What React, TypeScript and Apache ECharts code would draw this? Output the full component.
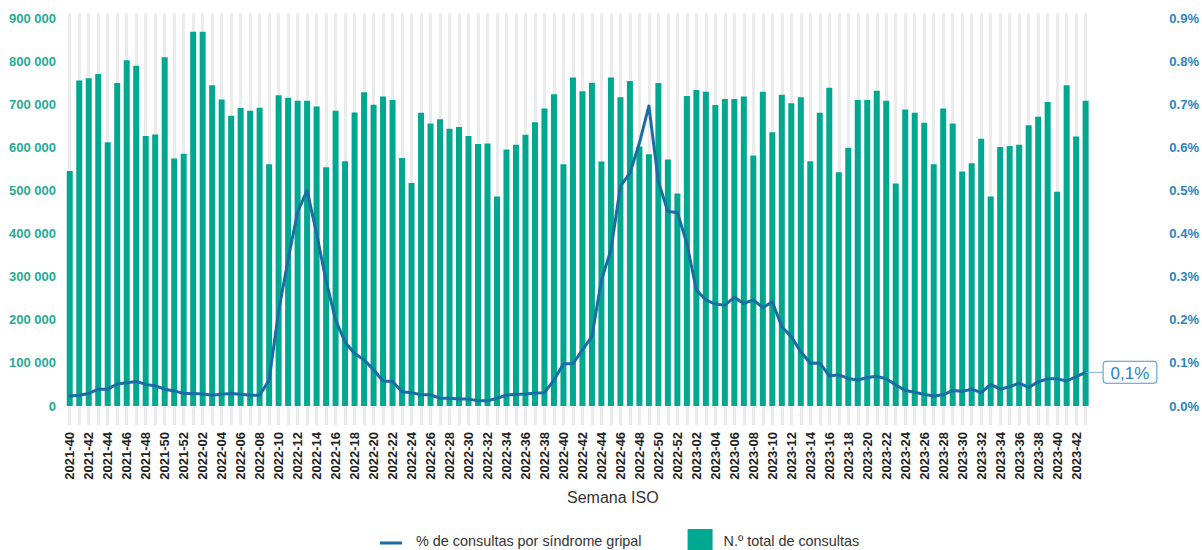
import React, { useEffect, useRef } from "react";
import * as echarts from "echarts";

// Week ranges (ISO): 2021-40..2021-52, 2022-01..2022-52, 2023-01..2023-43
const weekRanges: [number, number, number][] = [
  [2021, 40, 52],
  [2022, 1, 52],
  [2023, 1, 43],
];
const weeks: string[] = [];
for (const [y, a, b] of weekRanges) {
  for (let w = a; w <= b; w++) weeks.push(`${y}-${w < 10 ? "0" + w : w}`);
}

const totalConsultas: number[] = [
  545000, 755000, 760000, 770000, 612000, 749000, 802000, 789000, 626000, 630000,
  809000, 574000, 585000, 868000, 868000, 744000, 711000, 673000, 691000, 685000,
  692000, 561000, 721000, 715000, 708000, 708000, 695000, 554000, 685000, 568000,
  681000, 728000, 699000, 718000, 710000, 575000, 517000, 680000, 655000, 665000,
  643000, 647000, 626000, 608000, 609000, 486000, 595000, 606000, 629000, 658000,
  690000, 723000, 561000, 762000, 730000, 750000, 567000, 762000, 716000, 754000,
  602000, 584000, 749000, 572000, 493000, 719000, 733000, 729000, 698000, 712000,
  712000, 718000, 581000, 729000, 635000, 722000, 702000, 716000, 568000, 680000,
  738000, 542000, 599000, 710000, 710000, 731000, 708000, 516000, 688000, 680000,
  657000, 561000, 690000, 655000, 544000, 563000, 620000, 486000, 601000, 603000,
  606000, 651000, 671000, 705000, 497000, 744000, 625000, 708000,
];

const pctGripal: number[] = [
  0.023, 0.025, 0.029, 0.039, 0.039, 0.051, 0.054, 0.057, 0.05, 0.047,
  0.039, 0.035, 0.029, 0.029, 0.028, 0.025, 0.027, 0.029, 0.027, 0.025,
  0.025, 0.06, 0.22, 0.34, 0.45, 0.5, 0.4, 0.29, 0.2, 0.148,
  0.122, 0.107, 0.084, 0.058, 0.057, 0.033, 0.031, 0.026, 0.026, 0.018,
  0.018, 0.016, 0.016, 0.012, 0.012, 0.018, 0.025, 0.027, 0.028, 0.03,
  0.031, 0.06, 0.098, 0.098, 0.13, 0.161, 0.292, 0.362, 0.51, 0.54,
  0.61, 0.696, 0.52, 0.451, 0.449, 0.377, 0.269, 0.246, 0.236, 0.234,
  0.252, 0.238, 0.246, 0.228, 0.242, 0.184, 0.161, 0.126, 0.099, 0.1,
  0.07, 0.072, 0.064, 0.06, 0.066, 0.069, 0.063, 0.049, 0.036, 0.032,
  0.027, 0.023, 0.026, 0.036, 0.034, 0.039, 0.031, 0.05, 0.039, 0.045,
  0.053, 0.043, 0.056, 0.063, 0.063, 0.058, 0.068, 0.078,
];

const leftTicks = { min: 0, max: 900000, interval: 100000 };
const rightTicks = { min: 0, max: 0.9, interval: 0.1 };

const FONT = "'Liberation Sans', Arial, Helvetica, sans-serif";
const TEAL = "#00a88f";
const TEAL_TXT = "#1fab96";
const BLUE_TXT = "#2a84c0";
const LINE_BLUE = "#1b6ca6";
const STRIPE = "#ebebeb";
// thin horizontal bar inside a 25x21 box (corner points fix the bounding box)
const LINE_ICON = "path://M0,0L0.01,0M0,12.5L22,12.5L22,15.5L0,15.5ZM25,21L24.99,21";

export default function App() {
  const ref = useRef<HTMLDivElement>(null);
  useEffect(() => {
    if (!ref.current) return;
    const chart = echarts.init(ref.current, null, { renderer: "svg" });
    const fmtThousands = (v: number) =>
      String(Math.round(v)).replace(/\B(?=(\d{3})+(?!\d))/g, " ");
    chart.setOption({
      animation: false,
      textStyle: { fontFamily: FONT },
      title: {
        text: "Semana ISO",
        left: 567,
        top: 489,
        padding: 0,
        textStyle: { fontFamily: FONT, fontSize: 16, fontWeight: "normal", color: "#333" },
      },
      legend: {
        left: 380,
        top: 529,
        padding: 0,
        itemWidth: 25,
        itemHeight: 21,
        itemGap: 46,
        formatter: (n: string) => `{t|${n}}`,
        textStyle: {
          fontFamily: FONT,
          fontSize: 14.4,
          color: "#333",
          rich: { t: { fontFamily: FONT, fontSize: 14.4, lineHeight: 14, color: "#333", padding: [3, 0, 0, 6] } },
        },
        data: [
          { name: "% de consultas por síndrome gripal", icon: LINE_ICON, itemStyle: { color: LINE_BLUE } },
          { name: "N.º total de consultas", icon: "rect" },
        ],
      },
      grid: { left: 65, right: 109, top: 18, bottom: 144, containLabel: false },
      xAxis: [
        {
          type: "category",
          data: weeks,
          position: "bottom",
          axisLine: { show: false },
          axisTick: {
            show: true,
            alignWithLabel: true,
            interval: 0,
            length: 19,
            lineStyle: { color: STRIPE, width: 3 },
          },
          axisLabel: {
            interval: 1,
            rotate: 90,
            margin: 26,
            fontFamily: FONT,
            fontSize: 13,
            fontWeight: "bold",
            color: "#222",
          },
          splitLine: { show: false },
        },
        {
          type: "category",
          data: weeks,
          position: "bottom",
          axisLine: { show: false },
          axisLabel: { show: false },
          axisTick: {
            show: true,
            inside: true,
            alignWithLabel: true,
            interval: 0,
            length: 393,
            lineStyle: { color: STRIPE, width: 3 },
          },
          splitLine: { show: false },
        },
      ],
      yAxis: [
        {
          type: "value",
          ...leftTicks,
          axisLine: { show: false },
          axisTick: { show: false },
          splitLine: { show: false },
          axisLabel: {
            margin: 9,
            fontFamily: FONT,
            fontSize: 13,
            fontWeight: "bold",
            color: TEAL_TXT,
            formatter: (v: number) => fmtThousands(v),
          },
        },
        {
          type: "value",
          ...rightTicks,
          position: "right",
          axisLine: { show: false },
          axisTick: { show: false },
          splitLine: { show: false },
          axisLabel: {
            margin: 79,
            fontFamily: FONT,
            fontSize: 13,
            fontWeight: "bold",
            color: BLUE_TXT,
            formatter: (v: number) => v.toFixed(1) + "%",
          },
        },
      ],
      series: [
        {
          name: "N.º total de consultas",
          type: "bar",
          xAxisIndex: 0,
          yAxisIndex: 0,
          data: totalConsultas,
          barWidth: 6,
          itemStyle: { color: TEAL },
          z: 2,
        },
        {
          name: "% de consultas por síndrome gripal",
          type: "line",
          xAxisIndex: 0,
          yAxisIndex: 1,
          data: pctGripal,
          showSymbol: false,
          symbol: "none",
          lineStyle: { color: LINE_BLUE, width: 3, join: "round", cap: "round" },
          itemStyle: { color: LINE_BLUE },
          z: 3,
          endLabel: {
            show: true,
            distance: 0,
            formatter: (p: any) => `{l|}{b|${Number(p.value).toFixed(1).replace(".", ",")}%}`,
            rich: {
              l: { width: 18, height: 1, backgroundColor: "#7eb1d6" },
              b: {
                fontFamily: FONT,
                fontSize: 17,
                color: BLUE_TXT,
                borderColor: "#4d95c6",
                borderWidth: 1,
                borderRadius: 3,
                backgroundColor: "#fff",
                padding: [3, 7, 1, 7],
                lineHeight: 19,
              },
            },
          },
        },
      ],
    });
    return () => chart.dispose();
  }, []);
  return (
    <div
      ref={ref}
      style={{ position: "fixed", left: 0, top: 0, width: 1202, height: 550, background: "#fff" }}
    />
  );
}
